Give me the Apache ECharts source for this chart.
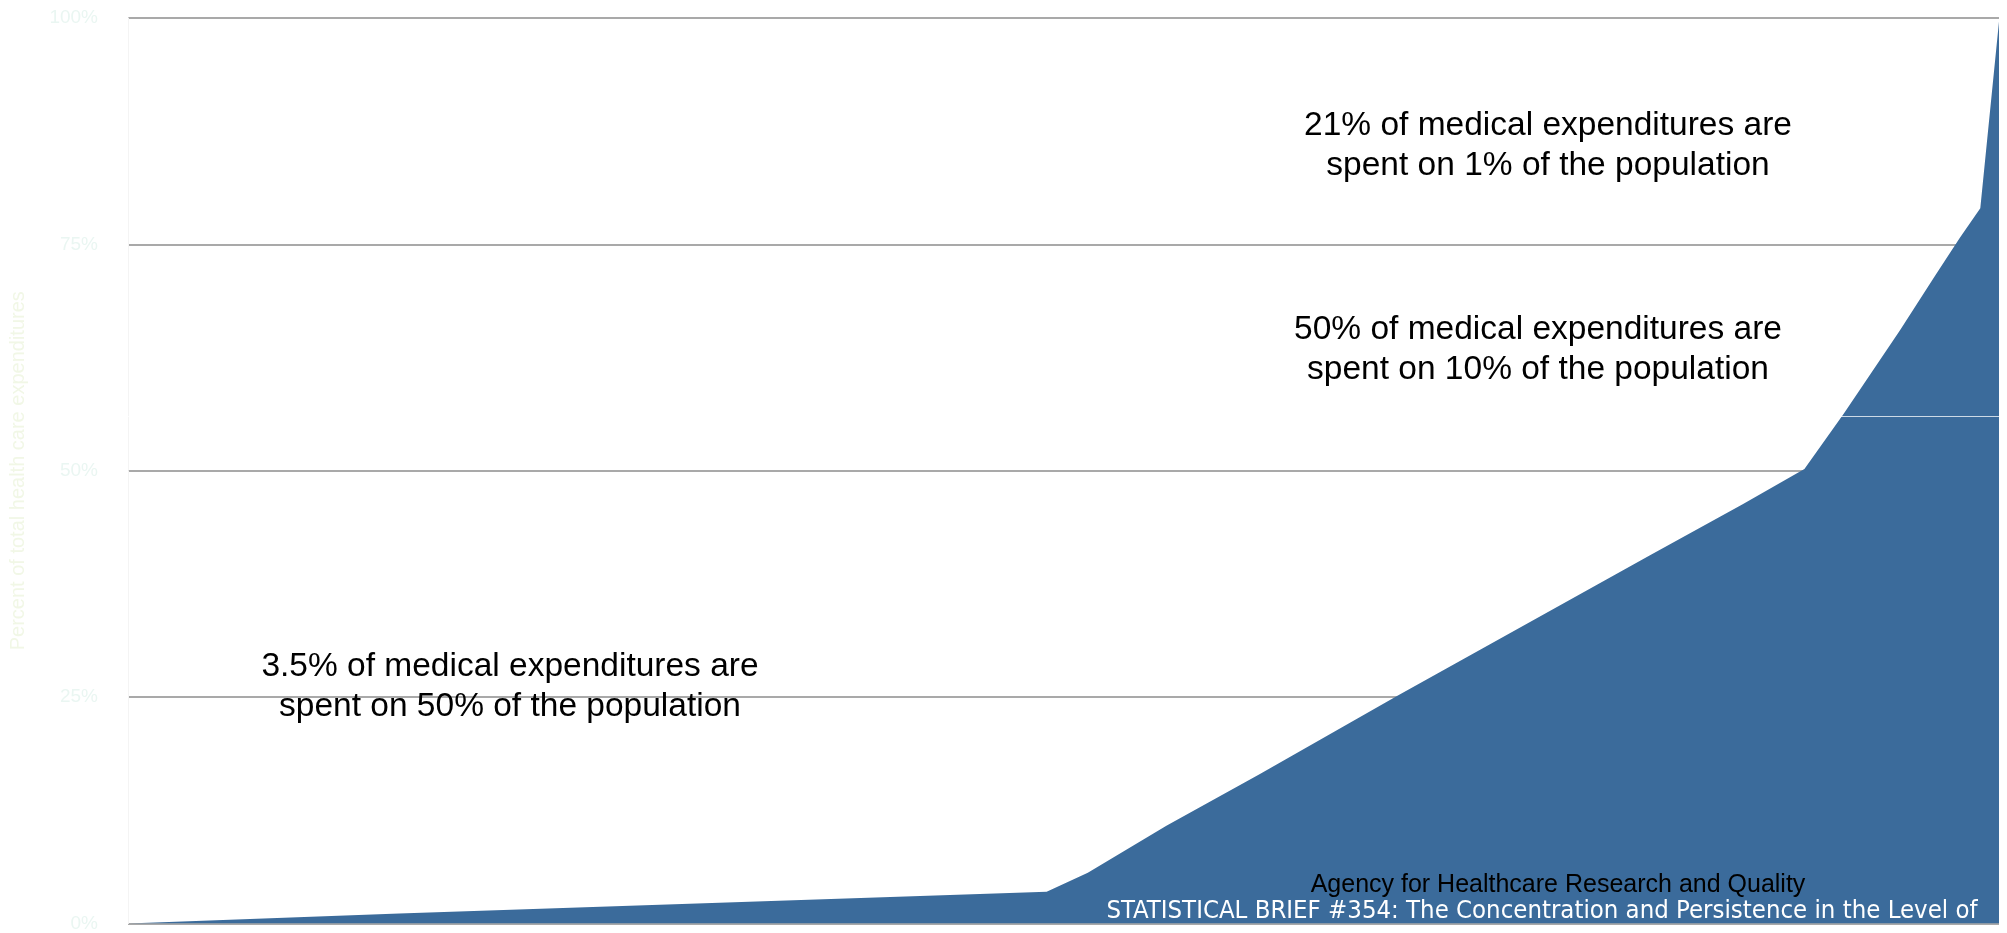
<!DOCTYPE html>
<html>
<head>
<meta charset="utf-8">
<script src="https://cdn.jsdelivr.net/npm/echarts@6/dist/echarts.min.js"></script>
<style>
  html, body { margin: 0; padding: 0; background: #ffffff; }
  #chart { width: 2007px; height: 933px; }
</style>
</head>
<body>
<div id="chart"></div>
<script>
// Cumulative share of population (x, %) vs cumulative share of expenditures (y, %)
const population  = [0, 14.5, 49.1, 51.3, 55.5, 60.5, 67.8, 81.3, 86.3, 89.6, 91.7, 94.7, 96.6, 97.9, 99.0, 100];
const expenditure = [0, 1.1, 3.5, 5.6, 10.8, 16.5, 25.1, 40.6, 46.3, 50.2, 56.3, 65.5, 71.6, 75.7, 79.0, 99.6];
const yTicks = ['0%', '25%', '50%', '75%', '100%'];
const yAxisTitle = 'Percent of total health care expenditures';
const notes = [
  ['21% of medical expenditures are', 'spent on 1% of the population'],
  ['50% of medical expenditures are', 'spent on 10% of the population'],
  ['3.5% of medical expenditures are', 'spent on 50% of the population']
];
const sourceLines = [
  'Agency for Healthcare Research and Quality',
  'STATISTICAL BRIEF #354: The Concentration and Persistence in the Level of'
];

const chart = echarts.init(document.getElementById('chart'), null, { renderer: 'canvas' });
const seriesData = population.map((p, i) => [p, expenditure[i]]);
const noteFont = '"Liberation Sans", Arial, sans-serif';
const narrowFont = '"Liberation Sans Narrow", "DejaVu Sans Condensed", Arial, sans-serif';

function noteText(lines, cx, top) {
  return {
    type: 'text', x: cx, y: top, z: 100,
    style: {
      text: lines.join('\n'),
      textAlign: 'center', textVerticalAlign: 'top',
      font: '33.5px ' + noteFont, lineHeight: 40, fill: '#000000'
    }
  };
}

chart.setOption({
  animation: false,
  backgroundColor: '#ffffff',
  grid: { left: 128, right: 8, top: 18, bottom: 2, containLabel: false },
  xAxis: {
    type: 'value', min: 0, max: 100,
    show: false
  },
  yAxis: {
    type: 'value', min: 0, max: 100, interval: 25,
    name: yAxisTitle, nameLocation: 'middle', nameRotate: 90, nameGap: 100,
    nameTextStyle: { color: '#f1f7e6', fontSize: 20, fontFamily: noteFont },
    axisLine: { show: true, lineStyle: { color: '#f4f4f4', width: 1 } },
    axisTick: { show: false },
    axisLabel: {
      margin: 30, fontSize: 19, fontFamily: noteFont, color: '#eaf6f2',
      formatter: v => yTicks[Math.round(v / 25)]
    },
    splitLine: { show: true, lineStyle: { color: '#a9a9a9', width: 2 } }
  },
  series: [{
    type: 'line',
    data: seriesData,
    symbol: 'none',
    lineStyle: { width: 0 },
    itemStyle: { color: '#3b6b9b' },
    areaStyle: { color: '#3b6b9b', opacity: 1 },
    silent: true,
    markLine: {
      silent: true, symbol: 'none', label: { show: false },
      lineStyle: { color: 'rgba(255,255,255,0.75)', width: 1, type: 'solid' },
      data: [{ yAxis: 56 }]
    }
  }],
  graphic: [
    noteText(notes[0], 1548, 106),
    noteText(notes[1], 1538, 310),
    noteText(notes[2], 510, 647),
    {
      type: 'text', x: 1558, y: 885, z: 100,
      style: { text: sourceLines[0], textAlign: 'center', textVerticalAlign: 'middle', font: '25px ' + noteFont, fill: '#000000' }
    },
    {
      type: 'text', x: 1542, y: 911, z: 100, scaleX: 1.02,
      style: { text: sourceLines[1], textAlign: 'center', textVerticalAlign: 'middle', font: '25px ' + narrowFont, fill: '#ffffff' }
    }
  ]
});
</script>
</body>
</html>
